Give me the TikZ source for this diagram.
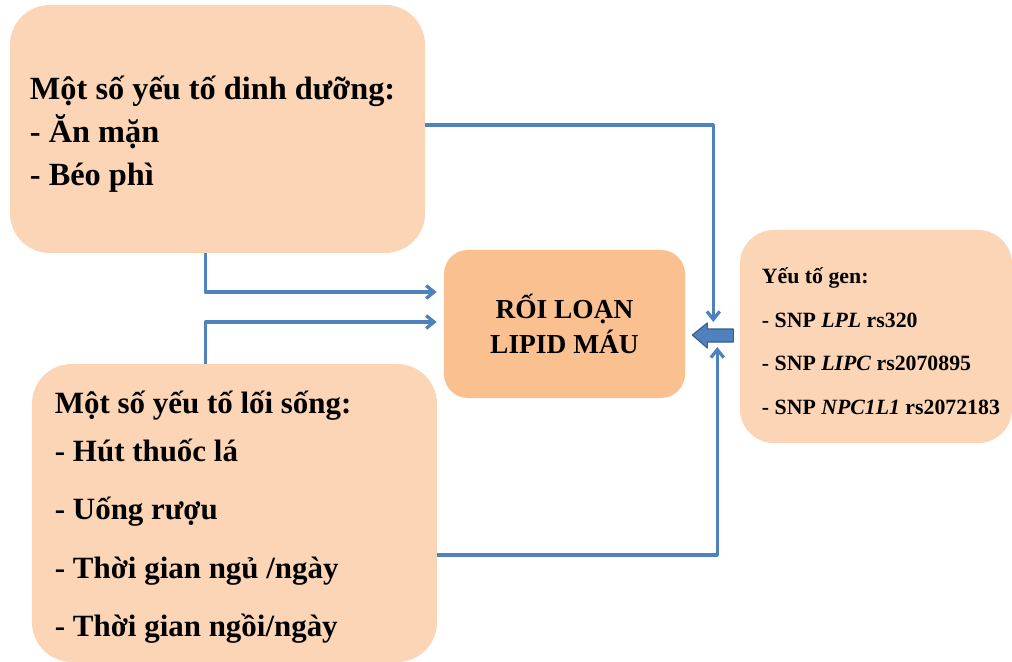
\documentclass[tikz,border=0pt]{standalone}
\usepackage{fontspec}
\setmainfont{Liberation Serif}
\usetikzlibrary{arrows.meta,calc}
\definecolor{peach}{HTML}{FBD5B5}
\definecolor{apricot}{HTML}{FAC090}
\definecolor{linkblue}{HTML}{4F81BD}
\definecolor{edgeblue}{HTML}{385D8A}
\tikzset{
  factor/.style={fill=peach, rounded corners=1cm, align=flush left, inner ysep=0pt},
  link/.style={draw=linkblue, line width=2.3pt, -{Straight Barb[length=2mm,width=3.2mm]}},
}
\begin{document}
\begin{tikzpicture}[x=0.025cm, y=-0.025cm, line join=round]
  \useasboundingbox (0,0) rectangle (1012,662);
  % factor boxes
  \node[factor, minimum width=10.375cm, minimum height=6.2cm, inner xsep=0.5cm, text width=9.375cm,
        font=\bfseries\fontsize{23}{30.5}\selectfont] (diet) at (217.5,129)
        {\rule{0pt}{0.86cm}Một số yếu tố dinh dưỡng:\\- Ăn mặn\\- Béo phì};
  \node[factor, minimum width=10.125cm, minimum height=7.45cm, inner xsep=0.575cm, text width=8.975cm,
        font=\bfseries\fontsize{22}{41.5}\selectfont] (life) at (234.5,513)
        {\rule{0pt}{0.78cm}Một số yếu tố lối sống:\\[-0.27cm]- Hút thuốc lá\\- Uống rượu\\- Thời gian ngủ /ngày\\- Thời gian ngồi/ngày};
  \node[fill=apricot, rounded corners=0.6cm, minimum width=6.025cm, minimum height=3.7cm, align=center,
        font=\bfseries\fontsize{19.5}{25}\selectfont] (core) at (564.5,324)
        {RỐI LOẠN\\LIPID MÁU};
  \node[factor, rounded corners=0.85cm, minimum width=6.8cm, minimum height=5.325cm, inner xsep=0.55cm, text width=5.7cm,
        font=\bfseries\fontsize{15.5}{31}\selectfont] (gene) at (876,336.5)
        {\rule{0pt}{0.63cm}Yếu tố gen:\\\mbox{- SNP \textit{LPL} rs320}\\\mbox{- SNP \textit{LIPC} rs2070895}\\\mbox{- SNP \textit{NPC1L1} rs2072183}};
  % block arrow gene -> core
  \coordinate (gtip) at ($(core.east)+(7,11)$);
  \filldraw[fill=linkblue, draw=edgeblue, line width=0.8pt] (gtip) -- ++(15,-12) -- ++(0,6) -- ++(26,0)
    -- ++(0,13) -- ++(-26,0) -- ++(0,6) -- cycle;
  \coordinate (gtop) at ($(gtip)+(21,-13)$);
  \coordinate (gbot) at ($(gtip)+(25,12)$);
  % connectors
  \draw[link] ($(diet.east)+(0,-4)$) -| (gtop);
  \draw[link] ($(diet.south)+(-12,0)$) |- ($(core.west)+(-7,-32)$);
  \draw[link] ($(life.north)+(-29,0)$) |- ($(core.west)+(-7,-2)$);
  \draw[link] ($(life.east)+(0,42)$) -| (gbot);
\end{tikzpicture}
\end{document}
